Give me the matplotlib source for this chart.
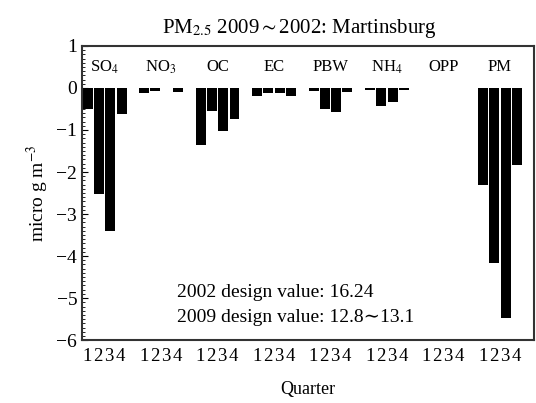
import numpy as np
import matplotlib.pyplot as plt
from matplotlib.ticker import MultipleLocator

plt.rcParams['font.family'] = ['Liberation Serif', 'DejaVu Serif']
plt.rcParams['mathtext.fontset'] = 'stix'

species = ['SO$_4$', 'NO$_3$', 'OC', 'EC', 'PBW', 'NH$_4$', 'OPP', 'PM']
quarters = ['1', '2', '3', '4']

# change per quarter (micro g m-3)
so4 = [-0.50, -2.52, -3.40, -0.62]
no3 = [-0.12, -0.08, 0.0, -0.10]
oc = [-1.36, -0.54, -1.02, -0.74]
ec = [-0.18, -0.13, -0.13, -0.18]
pbw = [-0.08, -0.50, -0.58, -0.10]
nh4 = [-0.06, -0.42, -0.34, -0.05]
opp = [0.0, 0.0, 0.0, 0.0]
pm = [-2.30, -4.17, -5.48, -1.83]

values = [so4, no3, oc, ec, pbw, nh4, opp, pm]

fig = plt.figure(figsize=(5.36, 4.03), dpi=100)
ax = fig.add_axes([0.153, 0.156, 0.843, 0.73])

for g, vals in enumerate(values):
    x = g * 5 + np.arange(len(quarters))
    ax.bar(x, vals, width=0.88, color='black')
    ax.text(g * 5 + 1.5, 0.5, species[g], ha='center', va='center', fontsize=12)

ax.set_xlim(-0.5, 39.5)
ax.set_ylim(-6, 1)
ax.set_xticks([g * 5 + 1.5 for g in range(len(species))])
ax.set_xticklabels(['\u200a'.join(quarters)] * len(species), fontsize=13.5)
ax.tick_params(axis='x', length=0, pad=6)
ax.yaxis.set_minor_locator(MultipleLocator(0.1))
ax.tick_params(axis='y', which='major', direction='in', length=4, labelsize=14)
ax.tick_params(axis='y', which='minor', direction='in', length=2)
ax.set_yticks(range(-6, 2))
ax.set_yticklabels(['\u2212' + str(abs(v)) if v < 0 else str(v) for v in range(-6, 2)])

for s in ax.spines.values():
    s.set_linewidth(1.5)
    s.set_color('#333333')

ax.text(7.9, -4.86, '2002 design value: 16.24', ha='left', va='center', fontsize=14)
ax.text(7.9, -5.45, '2009 design value: 12.8\u223c13.1', ha='left', va='center', fontsize=14)

ax.set_title('PM$_{2.5}$ 2009$\\sim$2002: Martinsburg', fontsize=15, pad=9, x=0.48)
ax.set_ylabel('micro g m$^{-3}$', fontsize=14, labelpad=4)
ax.set_xlabel('Quarter', fontsize=13, labelpad=11)

fig.savefig('out.png', dpi=100)
